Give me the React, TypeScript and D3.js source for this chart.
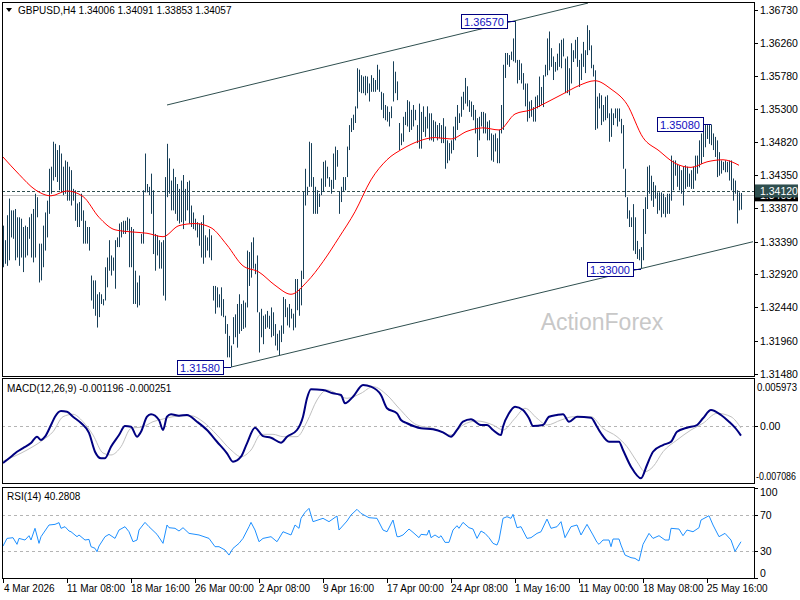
import React from "react";
import * as d3 from "d3";

// GBPUSD H4 bars, high / low in pips above 1.30000 (oldest first)
const highs = [
  362, 341, 377, 401, 384, 384, 386, 374, 374, 372, 360, 362, 360, 374, 379, 386, 408, 403, 336, 336,
  362, 381, 398, 444, 447, 483, 480, 471, 478, 466, 447, 456, 454, 447, 442, 415, 413, 394, 396, 408,
  384, 369, 360, 360, 290, 283, 283, 263, 266, 263, 256, 302, 316, 341, 319, 316, 341, 345, 365, 367,
  369, 369, 374, 372, 360, 357, 297, 280, 290, 350, 413, 466, 422, 418, 437, 413, 350, 348, 341, 338,
  341, 432, 480, 459, 427, 444, 432, 422, 415, 427, 435, 415, 425, 427, 391, 381, 372, 367, 365, 367,
  377, 348, 345, 357, 348, 275, 275, 273, 263, 273, 256, 232, 220, 203, 189, 230, 234, 249, 263, 249,
  254, 251, 326, 324, 338, 345, 307, 319, 237, 242, 232, 234, 239, 232,
  244, 237, 220, 206, 211, 218, 259, 256, 244, 249, 242, 235, 285, 285, 271, 297, 411, 444, 418, 483,
  481, 432, 418, 413, 408, 430, 454, 456, 447, 432, 428, 466, 476, 471, 411, 418, 432, 432, 476, 507,
  517, 522, 534, 589, 587, 579, 577, 578, 577, 567, 579, 575, 572, 594, 587, 555, 553, 536, 534, 526,
  534, 599, 584, 570, 510, 495, 519, 526, 543, 541, 529, 536, 529, 507, 538, 526, 534, 519, 534, 524,
  524, 514, 512, 507, 510, 507, 517, 505, 485, 481, 485, 505, 519, 536, 524, 548, 555, 575, 563, 543,
  541, 536, 529, 517, 519, 526, 526, 524, 512, 514, 495, 493, 495, 488, 500, 536, 594, 611, 611, 608,
  613, 632, 657, 601, 601, 596, 582, 567, 567, 541,
  543, 533, 548, 550, 577, 562, 579, 594, 632, 642, 618, 606, 598, 610, 625, 630, 632, 603, 606, 589,
  625, 615, 630, 634, 601, 610, 627, 615, 651, 644, 622, 594, 586, 548, 553, 550, 536, 548, 550, 524,
  531, 524, 531, 531, 531, 516, 507, 444, 403, 384, 374, 393, 374, 340, 328, 331, 386, 403, 447, 449,
  434, 425, 420, 410, 410, 410, 408, 403, 408, 408, 463, 456, 456, 451, 449, 442, 447, 449, 447, 437,
  442, 447, 463, 463, 485, 495, 499, 507, 507, 507, 508, 495, 490, 485, 468, 456, 454, 456, 454, 456,
  456, 430, 427, 413, 410, 409,
];
const lows = [
  302, 307, 304, 312, 345, 343, 312, 316, 304, 316, 295, 316, 319, 343, 316, 309, 316, 374, 280, 283,
  302, 326, 345, 379, 408, 427, 432, 425, 413, 410, 406, 408, 398, 398, 391, 398, 369, 360, 360, 369,
  336, 336, 336, 326, 254, 242, 232, 215, 230, 249, 247, 254, 273, 297, 290, 297, 271, 331, 331, 345,
  350, 350, 355, 302, 302, 249, 249, 244, 247, 336, 336, 410, 410, 406, 379, 321, 297, 319, 300, 300,
  261, 254, 403, 408, 384, 384, 379, 369, 365, 367, 357, 369, 384, 365, 360, 357, 355, 345, 333, 316,
  307, 316, 326, 316, 312, 254, 235, 244, 244, 232, 230, 206, 172, 172, 158, 191, 201, 186, 206, 210,
  213, 215, 244, 275, 287, 300, 292, 237, 179, 201, 191, 213, 215, 213,
  201, 203, 189, 182, 175, 194, 206, 230, 218, 215, 228, 211, 215, 240, 232, 247, 285, 391, 406, 418,
  418, 379, 379, 379, 389, 406, 411, 418, 430, 418, 408, 415, 428, 447, 379, 396, 411, 413, 432, 471,
  497, 500, 510, 531, 555, 553, 553, 550, 553, 541, 555, 555, 555, 558, 555, 529, 517, 514, 512, 505,
  517, 541, 553, 543, 471, 478, 483, 507, 505, 497, 500, 505, 514, 481, 473, 473, 497, 490, 502, 485,
  485, 483, 490, 485, 488, 481, 481, 444, 452, 456, 466, 471, 485, 500, 510, 519, 529, 538, 534, 526,
  519, 514, 495, 461, 485, 505, 495, 495, 485, 485, 456, 454, 469, 452, 452, 495, 500, 575, 594, 591,
  601, 599, 597, 567, 572, 567, 558, 534, 512, 517,
  519, 512, 512, 531, 533, 536, 533, 577, 579, 586, 591, 572, 584, 586, 591, 589, 606, 553, 553, 550,
  567, 598, 603, 591, 562, 572, 591, 582, 608, 615, 589, 577, 500, 502, 531, 507, 512, 514, 517, 483,
  490, 507, 517, 505, 512, 495, 444, 403, 372, 360, 360, 326, 321, 314, 312, 300, 312, 350, 386, 408,
  398, 389, 401, 379, 384, 374, 379, 374, 379, 379, 398, 413, 434, 418, 413, 408, 391, 415, 418, 418,
  415, 415, 427, 437, 446, 451, 461, 475, 487, 480, 478, 471, 461, 432, 434, 437, 442, 439, 439, 427,
  413, 398, 408, 365, 384, 385,
];

// red moving average, sampled every 8 bars (pips above 1.30000)
const maStep = 8;
const maPips = [
  461, 436, 414, 405, 412, 404, 374, 356, 353, 351, 346, 362, 365, 359, 334, 304, 295, 276, 263, 281,
  310, 345, 382, 428, 457, 473, 484, 489, 487, 498, 503, 500, 523, 529, 540, 552, 564, 571, 559, 537,
  489, 470, 452, 446, 454, 457, 449,
];

// MACD(12,26,9): bar index / value
const macdBars = [
  0, 4, 7, 10, 14, 17, 19, 21, 24, 26, 29, 32, 35, 39, 43, 46, 49, 51, 54, 58, 61, 64, 67, 69, 72, 74, 78,
  80, 82, 84, 88, 92, 97, 102, 107, 112, 115, 119, 122, 126, 130, 134, 139, 142, 147, 150, 152, 154, 160,
  165, 169, 171, 175, 180, 184, 189, 192, 197, 199, 202, 209, 215, 220, 224, 227, 230, 234, 239, 242, 245,
  249, 250, 253, 256, 260, 263, 265, 270, 273, 277, 280, 283, 287, 294, 297, 299, 303, 308, 310, 314, 319,
  322, 325, 330, 334, 337, 342, 347, 350, 354, 359, 363, 366, 369,
];
const macdMain = [
  -0.00468, -0.00388, -0.00325, -0.00278, -0.00214, -0.00134, -0.00176, -0.00134, 0.00014, 0.00119,
  0.00191, 0.00183, 0.00119, 0.00039, -0.00087, -0.00325, -0.00408, -0.00408, -0.00261, -0.00113, 0.00001,
  -0.00008, -0.00134, -0.00071, 0.00119, 0.0015, 0.00077, -0.00049, 0.00119, 0.0015, 0.00132, 0.00141,
  0.00056, -0.00049, -0.00198, -0.00345, -0.00451, -0.00388, -0.00218, -0.0002, -0.00126, -0.00147,
  -0.0021, -0.00134, -0.00049, 0.00119, 0.00353, 0.00467, 0.00458, 0.00416, 0.00394, 0.00289, 0.00373,
  0.00521, 0.005, 0.00394, 0.00226, 0.00162, 0.00077, 0.00036, -0.00028, -0.00041, -0.00079, -0.00134,
  -0.00049, 0.00056, 0.00086, 0.00014, 0.00014, -0.00049, -0.00113, -0.00008, 0.00162, 0.00246, 0.00204,
  0.00099, 0.00001, 0.00014, 0.00119, 0.00141, 0.0015, 0.00056, 0.00119, 0.00107, -0.00008, -0.00091,
  -0.00198, -0.00198, -0.00303, -0.00515, -0.00662, -0.00493, -0.00325, -0.0024, -0.00198, -0.00071,
  -0.0002, 0.00014, 0.00099, 0.00204, 0.00141, 0.00056, -0.0002, -0.001196,
];
const signalBars = [
  0, 12, 20, 25, 30, 35, 40, 45, 50, 54, 59, 64, 70, 75, 80, 85, 94, 100, 107, 114, 119, 124, 129, 135, 140,
  147, 152, 157, 162, 172, 179, 185, 192, 198, 207, 215, 224, 230, 237, 245, 250, 256, 261, 267, 272, 279,
  285, 294, 300, 307, 312, 317, 321, 325, 330, 337, 344, 350, 357, 364, 369,
];
const signalVals = [
  -0.00443, -0.00303, -0.00176, -0.00071, 0.00119, 0.0015, 0.00056, -0.00113, -0.00341, -0.00366,
  -0.00261, -0.00028, -0.00008, 0.00056, 0.0009, 0.00119, 0.00132, 0.00056, -0.00113, -0.00303, -0.00388,
  -0.00303, -0.00104, -0.00104, -0.00134, -0.00134, 0.00056, 0.00331, 0.00458, 0.00353, 0.00416, 0.005,
  0.00394, 0.00226, 0.00014, -0.00028, -0.00113, 0.00014, 0.00065, 0.00014, -0.00049, 0.00099, 0.00226,
  0.00099, 0.00014, 0.00077, 0.00119, 0.00119, -0.00028, -0.00134, -0.00261, -0.00451, -0.00578, -0.00515,
  -0.00325, -0.00176, -0.00049, 0.00036, 0.00162, 0.00119, -0.000251,
];

// RSI(14): bar index / value
const rsiBars = [
  0, 2, 5, 7, 8, 11, 13, 14, 16, 18, 19, 23, 26, 28, 29, 31, 33, 34, 37, 38, 41, 43, 44, 46, 47, 48, 51, 53,
  56, 58, 61, 63, 65, 67, 68, 71, 73, 77, 80, 82, 83, 86, 88, 90, 93, 98, 103, 106, 108, 111, 113, 115, 118,
  120, 123, 124, 126, 128, 130, 134, 137, 140, 144, 146, 148, 149, 151, 153, 155, 160, 163, 167, 168, 172,
  174, 177, 179, 183, 187, 190, 192, 195, 197, 198, 200, 203, 205, 208, 209, 212, 213, 214, 216, 218, 219,
  221, 223, 225, 227, 228, 230, 233, 235, 237, 239, 241, 243, 245, 247, 248, 250, 252, 254, 255, 257, 259,
  262, 264, 267, 269, 272, 274, 277, 279, 281, 284, 287, 289, 292, 295, 297, 298, 300, 303, 304, 305, 308,
  309, 311, 314, 316, 318, 320, 323, 325, 328, 331, 333, 334, 338, 340, 342, 345, 348, 349, 353, 355, 358,
  361, 364, 366, 369,
];
const rsiVals = [
  35.5, 44, 44.8, 37.4, 44, 42.2, 47, 42.2, 55.2, 38.5, 45.9, 58.9, 59.6, 61.5, 55.2, 57, 52.2, 51.4, 45.9,
  47.8, 42.2, 42.9, 34.8, 33, 29.2, 35.5, 45.9, 48.5, 44, 53.3, 57, 51.4, 40.3, 42.2, 53.3, 61.8, 57, 48.5,
  38.5, 58.9, 55.9, 55.2, 52.2, 55.9, 49.6, 47.8, 44, 34.8, 34.8, 31.1, 25.5, 32.9, 38.5, 44, 57, 61.8,
  53.3, 40.3, 44, 45.9, 40.3, 51.4, 47.8, 58.9, 55.2, 66.3, 72.9, 77.4, 62.6, 66.3, 62.6, 68.9, 53.3, 63.3,
  70, 76.3, 71.8, 67, 66.3, 53.3, 51.4, 64.4, 46, 45.9, 47.8, 54.4, 50.7, 44.8, 48.5, 47.8, 53.3, 44.8,
  47.8, 44.8, 47, 39.6, 39.6, 53.3, 58.1, 55.2, 61.8, 55.9, 54.4, 44, 52.2, 49.6, 44.8, 38.5, 36.6, 42.2,
  66.3, 68.1, 66.3, 70.7, 55.9, 57, 44, 44.8, 49.6, 51.4, 65.5, 55.2, 57, 62.6, 44.8, 57, 58.9, 47.8, 59.6,
  47.8, 39.6, 37.4, 42.2, 42.2, 34.8, 43.3, 43.3, 36.6, 25.5, 22.6, 21.8, 18.9, 37.4, 49.6, 44, 47, 42.2,
  42.2, 55.2, 54.4, 47, 53.3, 51.4, 55.9, 64.4, 69.2, 58.9, 45.9, 49.6, 42.2, 29.5, 40.3,
];

const priceTicks = [1.3673, 1.3626, 1.3578, 1.353, 1.3482, 1.3435, 1.3387, 1.3339, 1.3292, 1.3244, 1.3196, 1.3148];
const timeTickBars = [0, 32, 64, 96, 128, 160, 192, 224, 256, 288, 320, 352];
const timeTickLabels = [
  "4 Mar 2026", "11 Mar 08:00", "18 Mar 16:00", "26 Mar 00:00", "2 Apr 08:00", "9 Apr 16:00",
  "17 Apr 00:00", "24 Apr 08:00", "1 May 16:00", "11 May 00:00", "18 May 08:00", "25 May 16:00",
];

// swing labels: price and bar index
const swingPrices = [1.3657, 1.3508, 1.33, 1.3158];
const swingBars = [256, 354, 319, 114];

// channel lines: [bar, price] anchors
const upperChannel = [[82, 1.3536], [292.5, 1.3683]];
const lowerChannel = [[114, 1.3158], [375, 1.33388]];

const hLinePrice = 1.3412;
const lastClose = 1.34057;
const header = "GBPUSD,H4  1.34006 1.34091 1.33853 1.34057";
const macdHeader = "MACD(12,26,9) -0.001196 -0.000251";
const rsiHeader = "RSI(14) 40.2808";
const macdRange = [-0.007086, 0.005973];

const FONT = "'Liberation Sans', Arial, sans-serif";
const BAR = "#173f58";

const toPrice = (p: number) => 1.3 + p / 10000;

export default function App() {
  const left = 2, right = 754;
  const mainTop = 2, mainBottom = 376;
  const macdTop = 378, macdBottom = 483;
  const rsiTop = 487, rsiBottom = 578;

  const x = d3.scaleLinear().domain([0, 1]).range([3, 5]);
  const y = d3.scaleLinear().domain([1.3148, 1.3673]).range([374, 10]);
  const ym = d3.scaleLinear().domain(macdRange).range([482, 379]);
  const yr = d3.scaleLinear().domain([0, 100]).range([578, 488]);

  const maLine = d3.line<number>()
    .x((_, k) => x(k * maStep))
    .y((v) => y(toPrice(v)))
    .curve(d3.curveMonotoneX)(maPips);

  const macdLine = d3.line<number>()
    .x((_, k) => x(macdBars[k]))
    .y((v) => ym(v))
    .curve(d3.curveMonotoneX)(macdMain);

  const signalLine = d3.line<number>()
    .x((_, k) => x(signalBars[k]))
    .y((v) => ym(v))
    .curve(d3.curveMonotoneX)(signalVals);

  const rsiLine = d3.line<number>()
    .x((_, k) => x(rsiBars[k]))
    .y((v) => yr(v))(rsiVals);

  const chan = d3.line<number[]>().x((d) => x(d[0])).y((d) => y(d[1]));

  const axisText = { fontFamily: FONT, fontSize: 10.5, fill: "#000" };

  return (
    <svg width={800} height={600} style={{ position: "absolute", left: 0, top: 0, background: "#fff" }}>
      <defs>
        <clipPath id="mainClip">
          <rect x={left} y={mainTop} width={right - left} height={mainBottom - mainTop} />
        </clipPath>
      </defs>
      <rect x={0} y={0} width={800} height={600} fill="#fff" />

      {/* main panel */}
      <g clipPath="url(#mainClip)">
        <text x={602} y={330} textAnchor="middle" fontFamily={FONT} fontSize={23} fill="#c8c8c8">ActionForex</text>
        <line x1={left} x2={right} y1={Math.round(y(lastClose)) + 0.5} y2={Math.round(y(lastClose)) + 0.5} stroke="#c0c0c0" />
        <line x1={left} x2={right} y1={Math.round(y(hLinePrice)) + 0.5} y2={Math.round(y(hLinePrice)) + 0.5}
          stroke="#2f4f4f" strokeDasharray="3,2" />
        {highs.map((h, i) => {
          const px = Math.round(x(i)) + 0.5;
          const y1 = y(toPrice(h));
          const y2 = Math.max(y(toPrice(lows[i])), y1 + 1);
          return <line key={i} x1={px} x2={px} y1={y1} y2={y2} stroke={BAR} strokeWidth={1} />;
        })}
        <path d={maLine || ""} fill="none" stroke="#ff0000" strokeWidth={1} />
        <path d={chan(upperChannel) || ""} fill="none" stroke="#2f4f4f" strokeWidth={1} />
        <path d={chan(lowerChannel) || ""} fill="none" stroke="#2f4f4f" strokeWidth={1} />
        {swingPrices.map((p, k) => {
          const bx = x(swingBars[k]);
          const py = Math.round(y(p)) + 0.5;
          const rx = Math.round(bx) - 8;
          return (
            <g key={k}>
              <line x1={rx} x2={bx} y1={py} y2={py} stroke="#000080" />
              <rect x={rx - 46 + 0.5} y={py - 7} width={46} height={14} fill="#fff" stroke="#000080" />
              <text x={rx - 23} y={py + 4} textAnchor="middle" fontFamily={FONT} fontSize={11} fill="#1010c0">
                {p.toFixed(5)}
              </text>
            </g>
          );
        })}
      </g>
      <rect x={left + 0.5} y={mainTop + 0.5} width={right - left} height={mainBottom - mainTop} fill="none" stroke="#000" />
      <path d="M6,8 L12,8 L9,12 Z" fill="#000" />
      <text x={18} y={14} fontFamily={FONT} fontSize={10} fill="#000">{header}</text>

      {/* price axis */}
      {priceTicks.map((t) => (
        <g key={t}>
          <line x1={right} x2={right + 4} y1={Math.round(y(t)) + 0.5} y2={Math.round(y(t)) + 0.5} stroke="#000" />
          <text x={760} y={y(t) + 4} {...axisText}>{t.toFixed(5)}</text>
        </g>
      ))}
      <rect x={755} y={y(lastClose) - 6} width={43} height={12} fill="#000" />
      <text x={760} y={y(lastClose) + 4} {...axisText} fill="#fff">{lastClose.toFixed(5)}</text>
      <rect x={755} y={y(hLinePrice) - 6.5} width={43} height={13} fill="#2f4f4f" />
      <text x={760} y={y(hLinePrice) + 4} {...axisText} fill="#fff">{hLinePrice.toFixed(5)}</text>

      {/* MACD panel */}
      <line x1={left} x2={right} y1={Math.round(ym(0)) + 0.5} y2={Math.round(ym(0)) + 0.5} stroke="#b4b4b4" strokeDasharray="3,3" />
      <path d={signalLine || ""} fill="none" stroke="#c0c0c0" strokeWidth={1} />
      <path d={macdLine || ""} fill="none" stroke="#000080" strokeWidth={2} />
      <rect x={left + 0.5} y={macdTop + 0.5} width={right - left} height={macdBottom - macdTop} fill="none" stroke="#000" />
      <text x={7} y={392} fontFamily={FONT} fontSize={10} fill="#000">{macdHeader}</text>
      <text x={757} y={ym(macdRange[1]) + 12} {...axisText} textLength={40} lengthAdjust="spacingAndGlyphs">
        {macdRange[1].toFixed(6)}
      </text>
      <line x1={right} x2={right + 4} y1={Math.round(ym(0)) + 0.5} y2={Math.round(ym(0)) + 0.5} stroke="#000" />
      <text x={760} y={ym(0) + 4} {...axisText}>0.00</text>
      <text x={756} y={ym(macdRange[0]) - 2} {...axisText} textLength={40} lengthAdjust="spacingAndGlyphs">
        {macdRange[0].toFixed(6)}
      </text>

      {/* RSI panel */}
      {[70, 30].map((lv) => (
        <line key={lv} x1={left} x2={right} y1={Math.round(yr(lv)) + 0.5} y2={Math.round(yr(lv)) + 0.5}
          stroke="#b4b4b4" strokeDasharray="3,3" />
      ))}
      <path d={rsiLine || ""} fill="none" stroke="#1e90ff" strokeWidth={1} />
      <rect x={left + 0.5} y={rsiTop + 0.5} width={right - left} height={rsiBottom - rsiTop} fill="none" stroke="#000" />
      <text x={7} y={500} fontFamily={FONT} fontSize={10} fill="#000">{rsiHeader}</text>
      {[100, 70, 30, 0].map((lv) => {
        const ty = Math.min(Math.max(yr(lv), rsiTop + 5), rsiBottom - 5);
        return (
          <g key={lv}>
            <line x1={right} x2={right + 4} y1={Math.round(yr(lv)) + 0.5} y2={Math.round(yr(lv)) + 0.5} stroke="#000" />
            <text x={760} y={ty + 4} {...axisText}>{lv}</text>
          </g>
        );
      })}

      {/* time axis */}
      {timeTickBars.map((b, k) => (
        <g key={b}>
          <line x1={Math.round(x(b)) + 0.5} x2={Math.round(x(b)) + 0.5} y1={rsiBottom} y2={rsiBottom + 5} stroke="#000" />
          <text x={x(b) + (k === 0 ? 1 : 0)} y={592} fontFamily={FONT} fontSize={10} fill="#000">{timeTickLabels[k]}</text>
        </g>
      ))}
    </svg>
  );
}
